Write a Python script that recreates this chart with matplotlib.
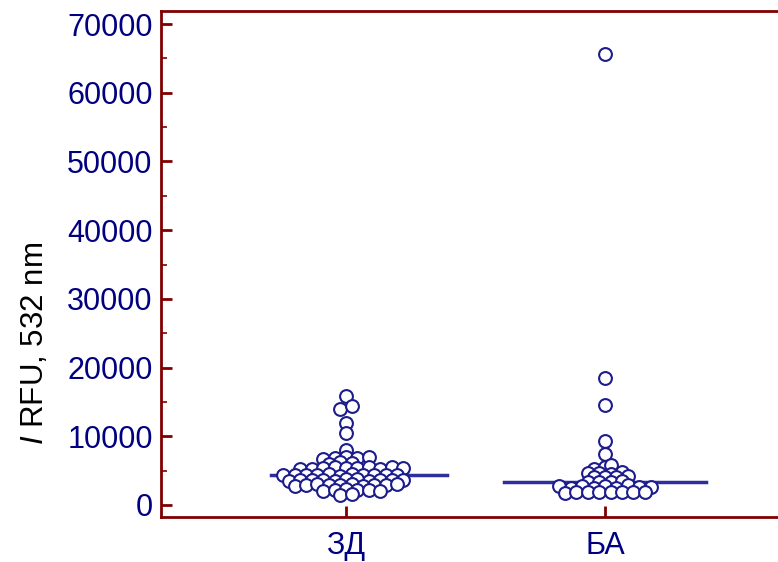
import numpy as np
import matplotlib.pyplot as plt

plt.rcParams['font.family'] = ['Liberation Sans', 'DejaVu Sans']
plt.rcParams['mathtext.fontset'] = 'custom'
plt.rcParams['mathtext.rm'] = 'Liberation Sans'
plt.rcParams['mathtext.it'] = 'Liberation Sans:italic'

groups = ["ЗД", "БА"]

# fluorescence intensity, RFU at 532 nm
zd = [15900, 14000, 14400, 11900, 10500, 8000,
      6700, 6900, 7000, 6850, 7050,
      6000, 6200, 6100,
      5200, 5300, 5400, 5500, 5350, 5450, 5600, 5250, 5550, 5400,
      4360, 4300, 4400, 4350, 4450, 4250, 4500, 4380, 4320, 4420, 4340,
      3500, 3600, 3700, 3650, 3550, 3750, 3800, 3450, 3680, 3620, 3580,
      2800, 2900, 3000, 2850, 2950, 3050, 2750, 2920, 2880, 3100,
      2100, 2200, 2300, 2150, 2250, 2050,
      1400, 1600]
ba = [65650, 18480, 14560, 9300, 7420, 5200, 5530,
      5800,
      4600, 4700, 4550, 4750,
      4000, 4100, 4050, 4150,
      3300, 3400, 3350, 3450,
      2700, 2500, 2800, 2400, 2750, 2450, 2850, 2550, 2650,
      1800, 1850, 1900, 1950, 1880, 1820, 1920, 1870]
data = [zd, ba]

navy = '#000080'
red = '#800000'
dot = '#1c1c8c'

fig = plt.figure(figsize=(7.78, 5.62), dpi=100)
ax = fig.add_axes([161 / 778, 45 / 562, 1 - 161 / 778, 506 / 562])
ax.set_xlim(0.286, 2.668)
ax.set_ylim(-1750, 71900)


def dot_rows(values, center, gap=3.3, sp=11.4):
    # dot-plot layout: values closer than `gap` px share a row, rows are
    # spread sideways with `sp` px spacing and staggered against the row below
    vals = np.asarray(values, dtype=float)
    pts = ax.transData.transform(np.column_stack([np.full(len(vals), center), vals]))
    cx, ypx = pts[0, 0], pts[:, 1]
    rows = []
    for k in np.argsort(ypx, kind='stable'):
        if rows and ypx[k] - ypx[rows[-1][0]] < gap:
            rows[-1].append(k)
        else:
            rows.append([k])
    off = np.zeros(len(vals))
    prev = None
    sign = 1
    for r in rows:
        r = sorted(r)
        n = len(r)
        phase = ((n - 1) / 2 % 1) * sp
        shift = 0.0
        if prev is not None and ypx[r[0]] - prev[1] < 7:
            need = (prev[0] + sp / 2 - phase) % sp
            if need > sp / 2 + 0.01:
                need -= sp
            if abs(abs(need) - sp / 2) < 0.01:
                need = sign * sp / 2
                sign = -sign
            shift = need
        off[r] = (np.arange(n) - (n - 1) / 2) * sp + shift
        prev = ((phase + shift) % sp, ypx[r[0]])
    xy = ax.transData.inverted().transform(np.column_stack([cx + off, ypx]))
    return xy[:, 0], vals


for i, vals in enumerate(data):
    xs, ys = dot_rows(vals, i + 1)
    ax.scatter(xs, ys, s=85, facecolors='white', edgecolors=dot, linewidths=1.5, zorder=3)

spans = [(-0.29, 0.39), (-0.39, 0.39)]
for i, vals in enumerate(data):
    m = np.median(vals)
    ax.plot([i + 1 + spans[i][0], i + 1 + spans[i][1]], [m, m],
            color='#2e2e9e', lw=2.5, zorder=2)

ax.set_xticks([1, 2])
ax.set_xticklabels(groups)
ax.set_yticks(np.arange(0, 70001, 10000))
ax.set_yticks(np.arange(5000, 70000, 10000), minor=True)

for s in ['left', 'bottom', 'top']:
    ax.spines[s].set_color(red)
    ax.spines[s].set_linewidth(2)
ax.spines['right'].set_visible(False)

ax.tick_params(axis='both', which='major', direction='in', length=8, width=2,
               color=red, labelcolor=navy, labelsize=22)
ax.tick_params(axis='y', which='minor', direction='in', length=4.5, width=1.2, color=red)
ax.tick_params(axis='y', which='major', pad=6)
ax.tick_params(axis='x', which='major', pad=10)

fig.text(35 / 778, 1 - 343 / 562, r'$\mathit{I}$ RFU, 532 nm', rotation=90,
         ha='center', va='center', fontsize=22.5, color='black')

fig.savefig('out.png', dpi=100)
